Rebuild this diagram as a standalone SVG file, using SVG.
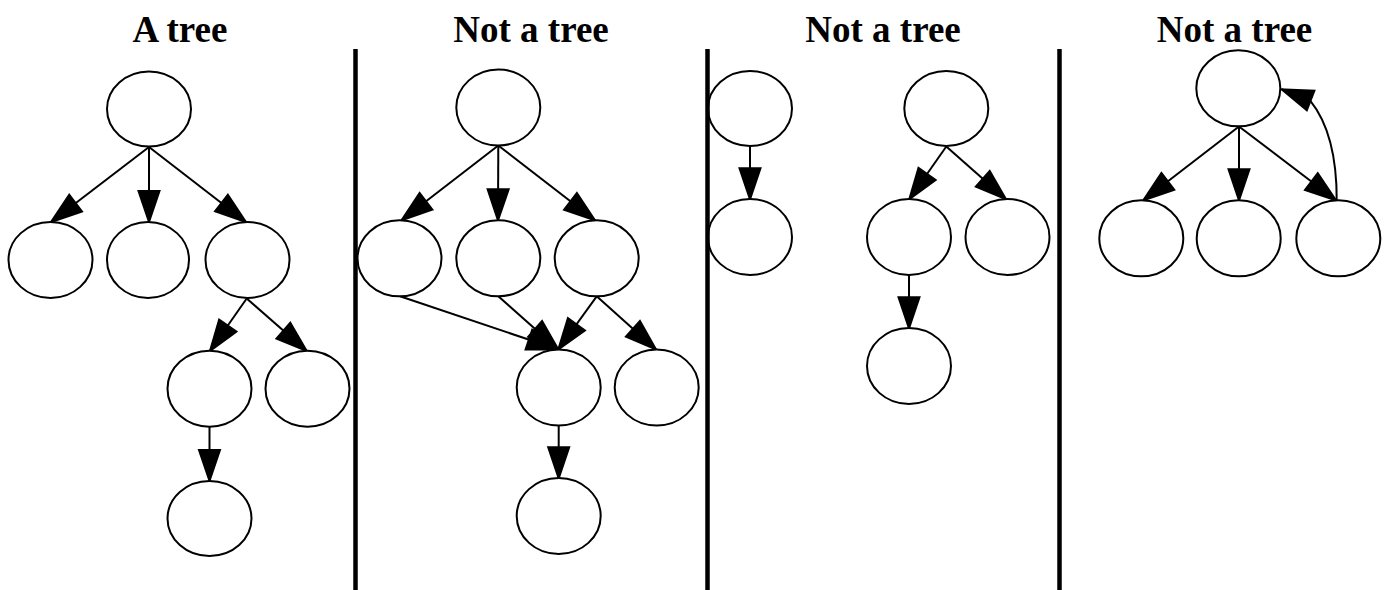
<svg xmlns="http://www.w3.org/2000/svg" width="1389" height="590" viewBox="0 0 1389 590">
<style>
.n{fill:#fff;stroke:#000;stroke-width:2}
.e{fill:none;stroke:#000;stroke-width:2;marker-end:url(#ah)}
.t{font-family:"Liberation Serif","Times New Roman",serif;font-weight:bold;font-size:37px;text-anchor:middle;fill:#000}
.d{stroke:#000;stroke-width:4.5}
</style>
<defs>
<marker id="ah" markerUnits="userSpaceOnUse" markerWidth="34" markerHeight="23" refX="31" refY="10.5" orient="auto" overflow="visible">
<path d="M0,0 L31,10.5 L0,21 z" fill="#000" stroke="#000" stroke-width="2"/>
</marker>
</defs>
<rect width="1389" height="590" fill="#fff"/>
<g id="titles">
<text class="t" x="180" y="41.5">A tree</text>
<text class="t" x="531" y="41.5">Not a tree</text>
<text class="t" x="883" y="41.5">Not a tree</text>
<text class="t" x="1234.5" y="41.5">Not a tree</text>
</g>
<g id="connectors">
<line class="e" x1="149" y1="147" x2="51" y2="222"/>
<line class="e" x1="149" y1="147" x2="149" y2="222"/>
<line class="e" x1="149" y1="147" x2="246" y2="222"/>
<line class="e" x1="246.7" y1="298.5" x2="210" y2="351"/>
<line class="e" x1="246.7" y1="298.5" x2="306.7" y2="351"/>
<line class="e" x1="209.5" y1="427" x2="209.5" y2="481"/>
<line class="e" x1="498.3" y1="145.5" x2="401.5" y2="220.3"/>
<line class="e" x1="498.3" y1="145.5" x2="498" y2="220.3"/>
<line class="e" x1="498.3" y1="145.5" x2="595" y2="220.3"/>
<line class="e" x1="400" y1="296.3" x2="558.3" y2="349.5"/>
<line class="e" x1="498.3" y1="296.3" x2="558.3" y2="349.5"/>
<line class="e" x1="596.7" y1="296.3" x2="558.3" y2="349.5"/>
<line class="e" x1="596.7" y1="296.3" x2="656" y2="349.5"/>
<line class="e" x1="558.7" y1="425.5" x2="558.7" y2="478.3"/>
<line class="e" x1="750" y1="146.5" x2="750" y2="199.3"/>
<line class="e" x1="946.3" y1="146.5" x2="909.3" y2="199.3"/>
<line class="e" x1="946.3" y1="146.5" x2="1006" y2="199.3"/>
<line class="e" x1="909" y1="275" x2="909" y2="328.3"/>
<line class="e" x1="1239" y1="126.5" x2="1143.3" y2="200.3"/>
<line class="e" x1="1239" y1="126.5" x2="1239" y2="200.3"/>
<line class="e" x1="1239" y1="126.5" x2="1336" y2="200.3"/>
<path class="e" d="M1336.7,201 C1337,150 1326,120 1310,100.3 L1281.7,89.3"/>
</g>
<g id="p1">
<g id="p1-root"><ellipse class="n" cx="149" cy="109" rx="42" ry="37.5"/></g>
<g id="p1-a"><ellipse class="n" cx="50.5" cy="260" rx="42" ry="38"/></g>
<g id="p1-b"><ellipse class="n" cx="148" cy="260" rx="41" ry="38"/></g>
<g id="p1-c"><ellipse class="n" cx="247.5" cy="260" rx="42" ry="38"/></g>
<g id="p1-d"><ellipse class="n" cx="209.5" cy="388.7" rx="42" ry="38"/></g>
<g id="p1-e"><ellipse class="n" cx="307.5" cy="388.7" rx="42" ry="38"/></g>
<g id="p1-f"><ellipse class="n" cx="209.5" cy="518.5" rx="42" ry="37.5"/></g>
</g>
<g id="p2">
<g id="p2-root"><ellipse class="n" cx="498.3" cy="107.5" rx="42" ry="38"/></g>
<g id="p2-a"><ellipse class="n" cx="399.5" cy="258.3" rx="42" ry="38"/></g>
<g id="p2-b"><ellipse class="n" cx="498.3" cy="258.3" rx="42" ry="38"/></g>
<g id="p2-c"><ellipse class="n" cx="596.7" cy="258.3" rx="42" ry="38"/></g>
<g id="p2-d"><ellipse class="n" cx="558.7" cy="387.5" rx="42" ry="38"/></g>
<g id="p2-e"><ellipse class="n" cx="656.7" cy="387.5" rx="42" ry="38"/></g>
<g id="p2-f"><ellipse class="n" cx="558.7" cy="516" rx="42" ry="38"/></g>
</g>
<g id="p3">
<g id="p3-a"><ellipse class="n" cx="750" cy="108.5" rx="42" ry="37.5"/></g>
<g id="p3-b"><ellipse class="n" cx="750" cy="237" rx="42" ry="38"/></g>
<g id="p3-root"><ellipse class="n" cx="946.3" cy="108.5" rx="42" ry="37.5"/></g>
<g id="p3-c"><ellipse class="n" cx="909" cy="237" rx="42" ry="38"/></g>
<g id="p3-d"><ellipse class="n" cx="1007.5" cy="237" rx="42" ry="38"/></g>
<g id="p3-e"><ellipse class="n" cx="909" cy="366" rx="42" ry="38"/></g>
</g>
<g id="p4">
<g id="p4-root"><ellipse class="n" cx="1238.3" cy="88.3" rx="42" ry="38"/></g>
<g id="p4-a"><ellipse class="n" cx="1141.3" cy="238.3" rx="42" ry="38"/></g>
<g id="p4-b"><ellipse class="n" cx="1238.7" cy="238.3" rx="42" ry="38"/></g>
<g id="p4-c"><ellipse class="n" cx="1338.3" cy="238.3" rx="42" ry="38"/></g>
</g>
<g id="dividers">
<line class="d" x1="355.5" y1="49" x2="355.5" y2="590"/>
<line class="d" x1="707.5" y1="49" x2="707.5" y2="590"/>
<line class="d" x1="1059.5" y1="49" x2="1059.5" y2="590"/>
</g>
</svg>
